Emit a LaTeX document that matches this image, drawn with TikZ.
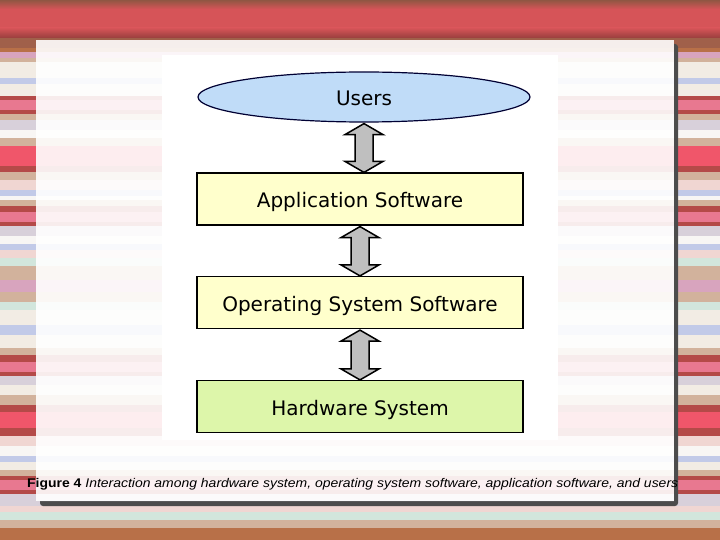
\documentclass[tikz,border=0pt]{standalone}
\usepackage{fontspec}
\setmainfont{Liberation Sans}
\newfontfamily\boxfont{DejaVu Sans}
\usepackage{graphicx}
\usetikzlibrary{shapes.geometric}
\usetikzlibrary{calc}

\definecolor{bgBrown}{HTML}{A0604A}
\definecolor{bgOrange}{HTML}{B87048}
\definecolor{bgMauve}{HTML}{D8A4BE}
\definecolor{bgTan}{HTML}{D2B29C}
\definecolor{bgCream}{HTML}{F2ECE4}
\definecolor{bgBlue}{HTML}{C2CAE8}
\definecolor{bgDark}{HTML}{B44A48}
\definecolor{bgRose}{HTML}{E87890}
\definecolor{bgRed}{HTML}{F0566A}
\definecolor{bgLav}{HTML}{D8D0DA}
\definecolor{bgWhite}{HTML}{F8F6F4}
\definecolor{bgPinkL}{HTML}{F0D6D2}
\definecolor{bgCyan}{HTML}{D2E6DC}
\definecolor{bandRed}{HTML}{D65458}
\definecolor{userBlue}{HTML}{C0DCF8}
\definecolor{appYellow}{HTML}{FFFFCC}
\definecolor{hwGreen}{HTML}{DDF6AA}

% y1/y2/colour of the backdrop stripes
\newcommand\stripelist{38/48/bgBrown, 48/52/bgOrange, 52/58/bgMauve, 58/62/bgTan, 62/78/bgCream, 78/84/bgBlue, 84/96/bgCream, 96/100/bgDark, 100/110/bgRose, 110/114/bgDark, 114/120/bgTan, 120/130/bgLav, 130/138/bgWhite, 138/146/bgTan, 146/166/bgRed, 166/172/bgDark, 172/180/bgTan, 180/190/bgPinkL, 190/196/bgBlue, 196/200/bgWhite, 200/206/bgTan, 206/212/bgDark, 212/222/bgRose, 222/226/bgDark, 226/236/bgLav, 236/244/bgWhite, 244/250/bgBlue, 250/258/bgPinkL, 258/266/bgCyan, 266/280/bgTan, 280/292/bgMauve, 292/302/bgTan, 302/310/bgCyan, 310/325/bgCream, 325/335/bgBlue, 335/348/bgCream, 348/355/bgTan, 355/362/bgDark, 362/372/bgRose, 372/376/bgDark, 376/385/bgLav, 385/395/bgCream, 395/405/bgTan, 405/412/bgDark, 412/428/bgRed, 428/436/bgDark, 436/446/bgPinkL, 446/456/bgWhite, 456/462/bgBlue, 462/470/bgCream, 470/476/bgTan, 476/480/bgDark, 480/490/bgRose, 490/494/bgDark, 494/506/bgLav, 506/512/bgPinkL, 512/520/bgCyan, 520/528/bgTan, 528/540/bgOrange}

\begin{document}
\begin{tikzpicture}[x=1pt,y=-1pt, line join=miter,
    boxtext/.style={inner sep=0pt, text height=17pt, text depth=0pt, font=\boxfont\fontsize{20}{24}\selectfont},
    layer/.style={boxtext, rectangle, draw=black, line width=1.2pt, minimum width=326pt, minimum height=52pt},
    userblob/.style={boxtext, ellipse, draw=black!80!blue, line width=1.2pt, fill=userBlue, minimum width=332pt, minimum height=50pt},
    dblarrow/.style={draw=black, line width=1.5pt, fill=black!25, xshift=-3pt}]
    \useasboundingbox (0,0) rectangle (720,540);

    % striped backdrop
    \foreach \ya/\yb/\c in \stripelist
        \fill[\c] (0,\ya) rectangle (720,\yb);
    \fill[bandRed] (0,0) rectangle (720,38);
    \shade[top color=bgBrown!90!black, bottom color=bandRed] (0,0) rectangle (720,9);
    \shade[top color=bandRed, bottom color=bgDark!85!black] (0,28) rectangle (720,38);

    % slide panel
    \fill[black!70, rounded corners=3pt] (40,44) rectangle (678,506);
    \fill[white] (36,40) rectangle (674,501);
    \begin{scope}
        \clip (36,40) rectangle (674,501);
        \foreach \ya/\yb/\c in \stripelist
            \fill[\c, opacity=0.1] (0,\ya) rectangle (720,\yb);
    \end{scope}
    \fill[white] (162,55) rectangle (558,440);

    \node[userblob] (users) at (364,97) {Users};
    \node[layer, fill=appYellow] (app) at (360,199) {Application Software};
    \node[layer, fill=appYellow] (os) at (360,302.5) {Operating System Software};
    \node[layer, fill=hwGreen] (hw) at (360,406.5) {Hardware System};

    \foreach \a/\b in {users/app, app/os, os/hw}
        \draw[dblarrow] let \p1=(\a.south), \p2=(\b.north) in
            (\x1,\y1-1pt) -- ++(19pt,-11pt) -- ++(-10pt,0pt) -- (\x1+9pt,\y2+11pt) -- ++(10pt,0pt) -- (\x1,\y2)
            -- ++(-19pt,11pt) -- ++(10pt,0pt) -- (\x1-9pt,\y1-12pt) -- ++(-10pt,0pt) -- cycle;

    \node[anchor=base west, inner sep=0pt, font=\fontsize{12.6}{15}\selectfont] (caption) at (27,487)
        {\resizebox{651pt}{\height}{\textbf{Figure 4} \textit{Interaction among hardware system, operating system software, application software, and users}}};
\end{tikzpicture}
\end{document}
